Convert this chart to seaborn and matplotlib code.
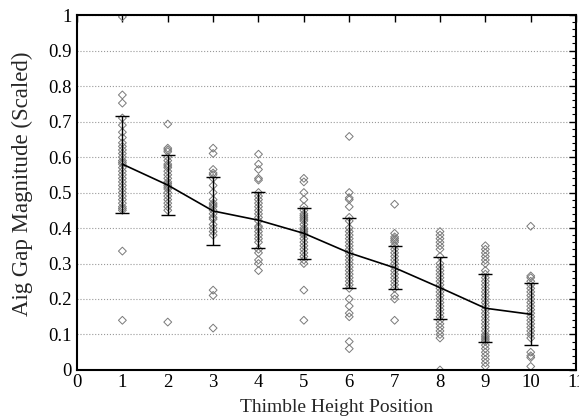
import numpy as np
import pandas as pd
import matplotlib
matplotlib.use("Agg")
import matplotlib.pyplot as plt
import seaborn as sns
from matplotlib.ticker import MultipleLocator

# raw scaled gap values per thimble height position
pos1 = [0.995, 0.775, 0.752, 0.71, 0.69, 0.67, 0.655, 0.64, 0.63, 0.62, 0.61, 0.60, 0.59,
        0.585, 0.58, 0.57, 0.56, 0.55, 0.54, 0.53, 0.52, 0.51, 0.50, 0.49, 0.48, 0.47,
        0.46, 0.455, 0.45, 0.335, 0.14]
pos2 = [0.693, 0.625, 0.62, 0.615, 0.60, 0.59, 0.58, 0.575, 0.57, 0.56, 0.55, 0.54, 0.53,
        0.525, 0.52, 0.515, 0.51, 0.50, 0.49, 0.48, 0.47, 0.46, 0.45, 0.135]
pos3 = [0.625, 0.61, 0.565, 0.555, 0.55, 0.54, 0.52, 0.50, 0.48, 0.47, 0.465, 0.46, 0.45,
        0.44, 0.43, 0.425, 0.41, 0.40, 0.39, 0.38, 0.225, 0.21, 0.118]
pos4 = [0.608, 0.58, 0.565, 0.54, 0.535, 0.50, 0.49, 0.48, 0.47, 0.46, 0.45, 0.44, 0.43,
        0.42, 0.405, 0.40, 0.39, 0.38, 0.37, 0.36, 0.34, 0.33, 0.31, 0.30, 0.28]
pos5 = [0.54, 0.53, 0.50, 0.48, 0.46, 0.45, 0.44, 0.435, 0.43, 0.425, 0.42, 0.41, 0.40,
        0.395, 0.39, 0.385, 0.38, 0.37, 0.36, 0.35, 0.34, 0.33, 0.32, 0.31, 0.30, 0.225, 0.14]
pos6 = [0.658, 0.50, 0.485, 0.48, 0.46, 0.43, 0.42, 0.40, 0.39, 0.38, 0.37, 0.36, 0.35,
        0.34, 0.33, 0.32, 0.31, 0.30, 0.29, 0.28, 0.27, 0.26, 0.25, 0.24, 0.23, 0.20,
        0.18, 0.16, 0.15, 0.08, 0.06]
pos7 = [0.467, 0.385, 0.375, 0.37, 0.365, 0.36, 0.35, 0.34, 0.33, 0.32, 0.31, 0.30, 0.29,
        0.28, 0.27, 0.26, 0.25, 0.24, 0.23, 0.21, 0.20, 0.14]
pos8 = [0.39, 0.38, 0.37, 0.36, 0.35, 0.34, 0.32, 0.30, 0.29, 0.28, 0.27, 0.26, 0.25, 0.24,
        0.23, 0.22, 0.21, 0.20, 0.19, 0.18, 0.17, 0.16, 0.15, 0.14, 0.13, 0.12, 0.11, 0.10,
        0.09, 0.0]
pos9 = [0.35, 0.34, 0.33, 0.32, 0.31, 0.30, 0.28, 0.27, 0.26, 0.25, 0.24, 0.23, 0.22, 0.21,
        0.20, 0.19, 0.18, 0.17, 0.16, 0.15, 0.14, 0.13, 0.12, 0.11, 0.10, 0.095, 0.09,
        0.085, 0.08, 0.07, 0.06, 0.05, 0.04, 0.03, 0.02, 0.01]
pos10 = [0.405, 0.265, 0.26, 0.25, 0.24, 0.23, 0.22, 0.21, 0.20, 0.19, 0.18, 0.17, 0.16,
         0.15, 0.14, 0.13, 0.12, 0.11, 0.10, 0.09, 0.05, 0.04, 0.035, 0.01]

positions = [1, 2, 3, 4, 5, 6, 7, 8, 9, 10]
means = [0.580, 0.521, 0.448, 0.422, 0.385, 0.330, 0.288, 0.232, 0.174, 0.157]
stds = [0.137, 0.085, 0.097, 0.079, 0.072, 0.099, 0.061, 0.087, 0.096, 0.087]

groups = [pos1, pos2, pos3, pos4, pos5, pos6, pos7, pos8, pos9, pos10]
df = pd.DataFrame({
    "pos": [p for p, g in zip(positions, groups) for _ in g],
    "gap": [v for g in groups for v in g],
})

sns.set_style("white")
plt.rcParams['font.family'] = ['Liberation Serif', 'DejaVu Serif']

fig = plt.figure(figsize=(5.79, 4.19), dpi=100)
ax = fig.add_axes([0.133, 0.117, 0.862, 0.847])

sns.scatterplot(data=df, x="pos", y="gap", marker="D", s=16,
                facecolor="none", edgecolor="#7a7a7a", linewidth=0.7, ax=ax, zorder=2)

ax.errorbar(positions, means, yerr=stds, fmt="-", color="black", lw=1.2,
            elinewidth=1.0, capsize=5, capthick=1.0, zorder=3)

ax.set_xlim(0, 11)
ax.set_ylim(0, 1)
ax.set_xticks(range(0, 12))
ax.set_yticks(np.arange(0, 1.01, 0.1))
ax.set_yticklabels(["0", "0.1", "0.2", "0.3", "0.4", "0.5", "0.6", "0.7", "0.8", "0.9", "1"])
ax.yaxis.set_minor_locator(MultipleLocator(0.02))
ax.tick_params(axis="both", which="both", direction="in", top=True, right=True,
               labelsize=13.5, colors="black")
ax.tick_params(which="major", length=5, width=1)
ax.tick_params(which="minor", length=3, width=0.8)
ax.tick_params(axis="x", pad=3)
ax.tick_params(axis="y", pad=4)

ax.yaxis.grid(True, which="major", linestyle=":", color="#999999", linewidth=0.8)
ax.set_axisbelow(True)
for s in ax.spines.values():
    s.set_color("black")
    s.set_linewidth(1.5)

ax.set_xlabel("Thimble Height Position", fontsize=14, labelpad=6)
ax.set_ylabel("Aig Gap Magnitude (Scaled)", fontsize=16.5, labelpad=11)
ax.xaxis.label.set_x(0.52)
ax.yaxis.label.set_y(0.525)

fig.savefig("out.png", dpi=100)
